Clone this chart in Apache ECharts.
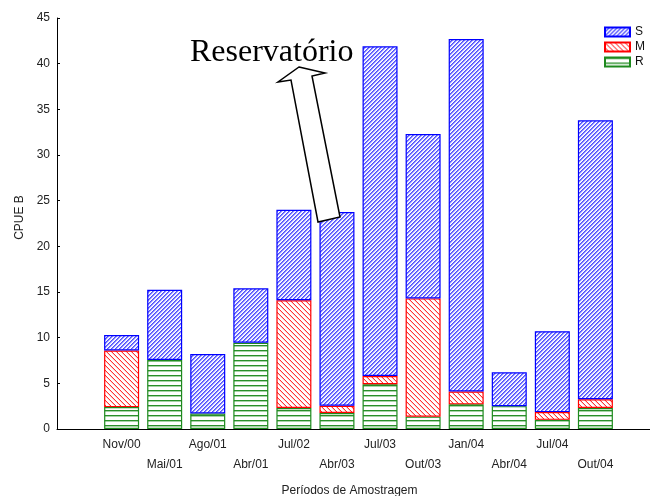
<!DOCTYPE html>
<html>
<head>
<meta charset="utf-8">
<script src="https://cdn.jsdelivr.net/npm/echarts@6/dist/echarts.min.js"></script>
<style>html,body{margin:0;padding:0;background:#fff}#c{width:650px;height:496px}</style>
</head>
<body>
<div id="c"></div>
<script>
// ---- data ----
const categories = ['Nov/00','Mai/01','Ago/01','Abr/01','Jul/02','Abr/03','Jul/03','Out/03','Jan/04','Abr/04','Jul/04','Out/04'];
const seriesR = [2.4, 7.55, 1.7, 9.45, 2.3, 1.75, 4.9, 1.35, 2.7, 2.5, 1.0, 2.3];
const seriesM = [6.2, 0, 0, 0, 11.8, 0.8, 0.9, 12.95, 1.4, 0, 0.85, 0.95];
const seriesS = [1.7, 7.7, 6.5, 5.95, 9.9, 21.2, 36.1, 18.0, 38.6, 3.7, 8.85, 30.55];
const yTicks = [0, 5, 10, 15, 20, 25, 30, 35, 40, 45];

// ---- patterns ----
function makePattern(size, draw) {
  const cv = document.createElement('canvas');
  cv.width = size; cv.height = size;
  const ctx = cv.getContext('2d');
  ctx.fillStyle = 'rgb(255,255,255)';
  ctx.fillRect(0, 0, size, size);
  draw(ctx, size);
  return { image: cv, repeat: 'repeat' };
}
const patS = makePattern(8, (ctx, s) => {
  for (let i = 0; i < s; i++) {
    ctx.fillStyle = 'rgb(80,80,255)';
    ctx.fillRect(i, (s - 1 - i) % 4, 1, 1);
    ctx.fillRect(i, (s - 1 - i) % 4 + 4, 1, 1);
    ctx.fillStyle = 'rgb(130,130,255)';
    ctx.fillRect(i, (s - i) % 4, 1, 1);
    ctx.fillRect(i, (s - i) % 4 + 4, 1, 1);
    ctx.fillStyle = 'rgb(225,225,255)';
    ctx.fillRect(i, (s + 1 - i) % 4, 1, 1);
    ctx.fillRect(i, (s + 1 - i) % 4 + 4, 1, 1);
  }
});
const patM = makePattern(5, (ctx, s) => {
  ctx.fillStyle = 'rgb(255,50,50)';
  for (let i = 0; i < s; i++) ctx.fillRect(i, i, 1, 1);
  ctx.fillStyle = 'rgb(255,200,200)';
  for (let i = 0; i < s; i++) ctx.fillRect(i, (i + 1) % s, 1, 1);
});
const patR = makePattern(5, (ctx, s) => {
  ctx.fillStyle = 'rgb(42,143,42)';
  ctx.fillRect(0, 0, s, 1);
  ctx.fillStyle = 'rgb(168,212,168)';
  ctx.fillRect(0, 1, s, 1);
});

const axisData = [''].concat(categories, ['']);
function pad(arr) {
  return ['-'].concat(arr.map(v => (v === 0 ? '-' : v)), ['-']);
}

const font = 'Arial, "Liberation Sans", sans-serif';
const chart = echarts.init(document.getElementById('c'), null, { renderer: 'canvas' });

chart.setOption({
  animation: false,
  backgroundColor: '#ffffff',
  grid: { left: 57, top: 18, bottom: 67, right: -10, containLabel: false, outerBoundsMode: 'none' },
  legend: {
    orient: 'vertical',
    left: 599, top: 21,
    itemWidth: 25, itemHeight: 9, itemGap: 3,
    icon: 'rect',
    data: ['S', 'M', 'R'],
    textStyle: { fontFamily: font, fontSize: 12, color: '#111' }
  },
  xAxis: {
    type: 'category',
    data: axisData,
    boundaryGap: true,
    name: 'Períodos de Amostragem',
    nameLocation: 'middle',
    nameGap: 56,
    nameTextStyle: { fontFamily: font, fontSize: 12, color: '#222', padding: [0, 18, 0, 0] },
    axisLine: { lineStyle: { color: '#000', width: 1 } },
    axisTick: { inside: true, length: 3, alignWithLabel: true, interval: 0, lineStyle: { color: '#000' } },
    axisLabel: {
      interval: 0,
      margin: 6,
      fontFamily: font, fontSize: 12, color: '#222', lineHeight: 20,
      formatter: function (v, i) { return (i % 2 === 0) ? '\n' + v : v; }
    }
  },
  yAxis: {
    type: 'value',
    min: 0, max: 45, interval: 5,
    name: 'CPUE B',
    nameLocation: 'middle',
    nameGap: 31,
    nameTextStyle: { fontFamily: font, fontSize: 12, color: '#222', padding: [0, 0, 0, 12] },
    splitLine: { show: false },
    axisLine: { show: true, lineStyle: { color: '#000', width: 1 } },
    axisTick: { show: true, inside: true, length: 3, lineStyle: { color: '#000' } },
    axisLabel: {
      margin: 7, fontFamily: font, fontSize: 12, color: '#222',
      formatter: function (v) { return yTicks.indexOf(v) >= 0 ? String(v) : ''; }
    }
  },
  series: [
    { name: 'R', type: 'bar', stack: 'a', barWidth: 35, data: pad(seriesR),
      itemStyle: { color: patR, borderColor: '#1e8a1e', borderWidth: 1.2 } },
    { name: 'M', type: 'bar', stack: 'a', barWidth: 35, data: pad(seriesM),
      itemStyle: { color: patM, borderColor: '#ff0000', borderWidth: 1.2 } },
    { name: 'S', type: 'bar', stack: 'a', barWidth: 35, data: pad(seriesS),
      itemStyle: { color: patS, borderColor: '#0000ff', borderWidth: 1.2 } }
  ],
  graphic: [
    {
      type: 'polygon', z: 100,
      shape: { points: [[299, 67], [325, 73], [312, 76], [340, 217], [318, 222], [291, 80], [278, 82]] },
      style: { fill: '#ffffff', stroke: '#000000', lineWidth: 1.5 }
    },
    {
      type: 'text', z: 100, left: 190, top: 37,
      style: { text: 'Reservatório', font: '32px "Liberation Serif", "Times New Roman", serif', fill: '#000' }
    }
  ]
});
</script>
</body>
</html>
